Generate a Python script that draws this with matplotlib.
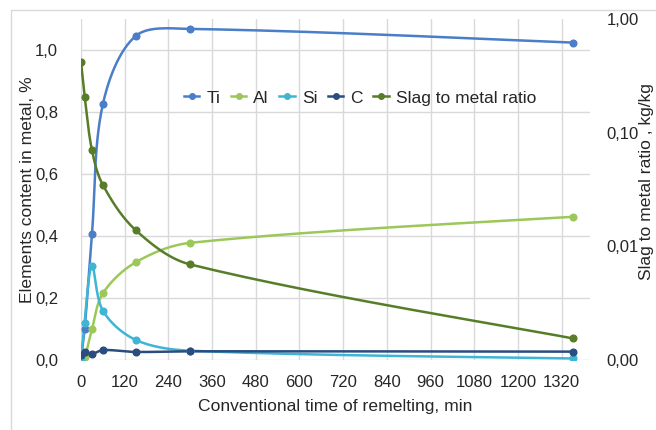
import numpy as np
import matplotlib
matplotlib.use('Agg')
import matplotlib.pyplot as plt
from matplotlib.lines import Line2D
from matplotlib.patches import Rectangle

plt.rcParams['font.family'] = ['Liberation Sans', 'DejaVu Sans']
plt.rcParams['font.size'] = 12

# Conventional time of remelting, min
time_min = [0, 10, 30, 60, 150, 300, 1350]

# Elements content in metal, %
ti = [0.0, 0.10, 0.405, 0.825, 1.045, 1.068, 1.024]
al = [0.0, 0.01, 0.099, 0.215, 0.315, 0.378, 0.462]
si = [0.0, 0.12, 0.304, 0.159, 0.065, 0.030, 0.005]
c = [0.015, 0.027, 0.020, 0.032, 0.026, 0.028, 0.027]

# Slag to metal ratio, kg/kg (log axis)
slag = [0.42, 0.208, 0.0705, 0.0347, 0.0139, 0.00693, 0.00155]

x_ticks = list(range(0, 1321, 120))
left_ticks = [0.0, 0.2, 0.4, 0.6, 0.8, 1.0]
right_ticks = [0.001, 0.01, 0.1, 1.0]

COLORS = {
    'Ti': '#4A7EC8',
    'Al': '#9CC85A',
    'Si': '#3DB5D5',
    'C': '#2B4C7E',
    'Slag': '#577D28',
}

XMAX = 1398
AX_W, AX_H = 509, 341  # plot area in pixels


def smooth(x, y, ysc, n=30):
    # Excel-like smoothed line: bezier through the points, tangents built in
    # pixel space and scaled by the neighbouring chord lengths (no loops)
    p = np.column_stack([np.asarray(x, float) * AX_W / XMAX, np.asarray(y, float) * ysc])
    m = len(p)
    d = np.hypot(*np.diff(p, axis=0).T)
    tang = np.zeros_like(p)
    for i in range(m):
        tang[i] = p[min(i + 1, m - 1)] - p[max(i - 1, 0)]
    out = [p[0]]
    t = np.linspace(0, 1, n)[1:]
    for i in range(m - 1):
        dl = d[i - 1] if i > 0 else d[i]
        dr = d[i + 1] if i < m - 2 else d[i]
        k1 = d[i] / (dl + d[i]) / 3
        k2 = d[i] / (d[i] + dr) / 3
        p1, p2 = p[i], p[i + 1]
        c1 = p1 + tang[i] * k1
        c2 = p2 - tang[i + 1] * k2
        seg = ((1 - t) ** 3)[:, None] * p1 + (3 * (1 - t) ** 2 * t)[:, None] * c1 \
            + (3 * (1 - t) * t ** 2)[:, None] * c2 + (t ** 3)[:, None] * p2
        out.extend(seg)
    out = np.array(out)
    return out[:, 0] * XMAX / AX_W, out[:, 1] / ysc


fig = plt.figure(figsize=(6.56, 4.3), dpi=100)
# chart border (cropped at the right and bottom)
fig.patches.append(Rectangle((11 / 656, -0.2), 1.2, 0.2 + 420 / 430, transform=fig.transFigure,
                             fill=False, edgecolor='#D9D9D9', linewidth=1.0))

ax = fig.add_axes([81 / 656, 1 - 360 / 430, AX_W / 656, AX_H / 430])
ax2 = ax.twinx()

handles = []
for name, vals in [('Ti', ti), ('Al', al), ('Si', si), ('C', c)]:
    xs, ys = smooth(time_min, vals, AX_H / 1.1)
    col = COLORS[name]
    ax.plot(xs, ys, color=col, linewidth=1.8, zorder=3)
    ax.plot(time_min, vals, 'o', color=col, markersize=4.8, markeredgecolor=col, zorder=4)
    handles.append(Line2D([], [], color=col, linewidth=1.8, marker='o', markersize=4, label=name))

xs, ys = smooth(time_min, np.log10(slag), AX_H / 3)
ax2.plot(xs, 10 ** ys, color=COLORS['Slag'], linewidth=1.8, zorder=3)
ax2.plot(time_min, slag, 'o', color=COLORS['Slag'], markersize=4.8, zorder=4)
handles.append(Line2D([], [], color=COLORS['Slag'], linewidth=1.8, marker='o', markersize=4,
                      label='Slag to metal ratio'))

ax.set_xlim(0, XMAX)
ax.set_ylim(0, 1.1)
ax.set_xticks(x_ticks)
ax.set_yticks(left_ticks)
ax.set_yticklabels([f'{v:.1f}'.replace('.', ',') for v in left_ticks])
ax.grid(True, color='#D9D9D9', linewidth=1.0)
ax.set_axisbelow(True)
ax.tick_params(axis='x', length=0, pad=11, colors='#262626')
ax.tick_params(axis='y', length=0, pad=16.5, colors='#262626')
for s in ax.spines.values():
    s.set_visible(False)

ax2.set_yscale('log')
ax2.set_ylim(0.001, 1.0)
ax2.set_yticks(right_ticks)
ax2.set_yticklabels([f'{v:.2f}'.replace('.', ',') for v in right_ticks])
ax2.minorticks_off()
ax2.tick_params(axis='y', length=0, pad=12, colors='#262626')
for s in ax2.spines.values():
    s.set_visible(False)

ax.set_xlabel('Conventional time of remelting, min', color='#262626', fontsize=12.6)
ax.xaxis.set_label_coords(0.5, -0.115)
ax.set_ylabel('Elements content in metal, %', color='#262626', fontsize=12.6)
ax.yaxis.set_label_coords(-0.09, 0.5)
fig.text(647 / 656, 1 - 182 / 430, 'Slag to metal ratio , kg/kg', rotation=90,
         ha='center', va='center', color='#262626', fontsize=12.6)

ax2.legend(handles=handles, loc='center', bbox_to_anchor=((360 - 81) / AX_W, (360 - 98) / AX_H),
           ncol=5, frameon=False, handlelength=0.9, handletextpad=0.4, columnspacing=0.6,
           fontsize=12.5, labelcolor='#262626')

fig.savefig('out.png', dpi=100)
